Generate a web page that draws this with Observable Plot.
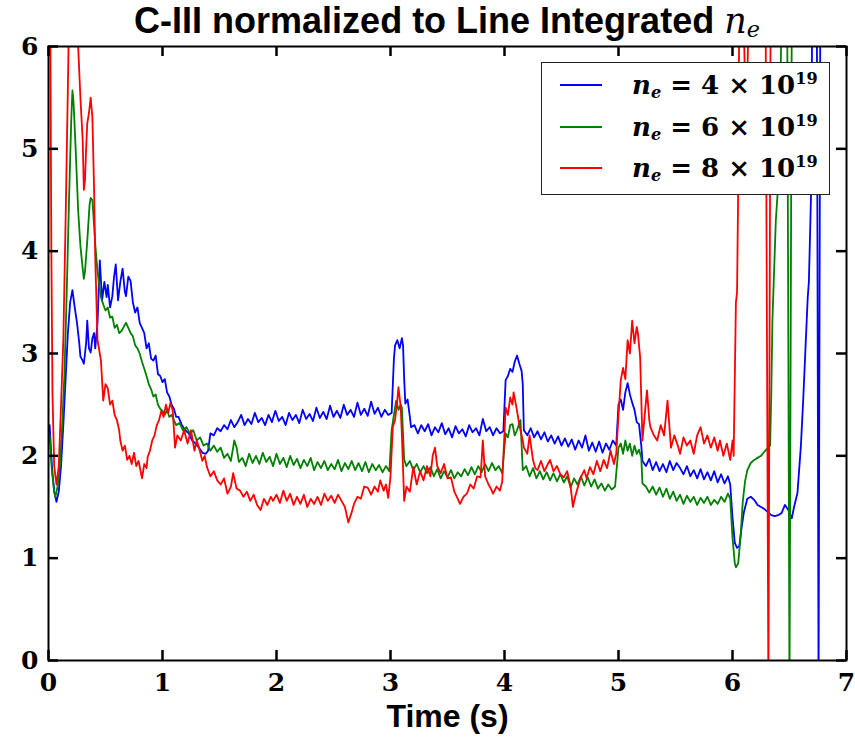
<!DOCTYPE html>
<html><head><meta charset="utf-8">
<script src="https://cdn.jsdelivr.net/npm/d3@7"></script>
<script src="https://cdn.jsdelivr.net/npm/@observablehq/plot@0.6"></script>
<style>
body{margin:0;background:#fff;}
#wrap{position:relative;width:855px;height:738px;overflow:hidden;background:#fff;}
#title{position:absolute;left:48px;width:798px;top:0;height:44px;text-align:center;font-family:"Liberation Sans",Arial,sans-serif;font-weight:bold;font-size:36px;line-height:42px;white-space:nowrap;color:#000;z-index:2;}
#title i{font-family:"DejaVu Serif";font-weight:normal;font-size:35px;}
#title sub{font-size:0.62em;vertical-align:-0.2em;line-height:0;font-family:"DejaVu Serif";font-style:italic;font-weight:normal;}
#chart{position:absolute;left:0;top:36px;z-index:1;}
#legend{position:absolute;left:541px;top:62px;width:287px;height:131px;border:1.5px solid #222;background:#fff;z-index:3;}
.sw{position:absolute;left:18px;width:42px;height:0;border-top:2px solid;}
.lt{position:absolute;left:90px;height:30px;line-height:30px;font-family:"DejaVu Serif",serif;font-weight:bold;font-size:26px;white-space:nowrap;color:#000;}
.lt sub{font-size:0.62em;vertical-align:-0.25em;line-height:0;font-style:italic;}
.lt sup{font-size:0.62em;vertical-align:0.6em;line-height:0;}
</style></head>
<body>
<div id="wrap">
  <div id="title">C-III normalized to Line Integrated <i>n</i><sub>e</sub></div>
  <div id="chart"></div>
  <div id="legend"></div>
</div>
<script>
const xTicks = [0,1,2,3,4,5,6,7];
const yTicks = [0,1,2,3,4,5,6];
const seriesNames = ["4", "6", "8"];
const seriesColors = ["#0000ff", "#008000", "#ff0000"];

const blue = [[0.01,2.3],[0.03,1.9],[0.05,1.65],[0.07,1.55],[0.09,1.65],[0.11,1.9],[0.13,2.3],[0.15,2.75],[0.17,3.2],[0.19,3.5],[0.21,3.62],[0.23,3.45],[0.25,3.3],[0.27,3.1],[0.28,2.97],[0.30,2.93],[0.31,2.9],[0.33,3.1],[0.34,3.32],[0.355,3.05],[0.37,3.01],[0.385,3.15],[0.40,3.2],[0.41,3.05],[0.43,3.3],[0.45,3.91],[0.47,3.52],[0.49,3.7],[0.51,3.55],[0.52,3.67],[0.54,3.45],[0.56,3.56],[0.575,3.75],[0.59,3.87],[0.61,3.52],[0.63,3.7],[0.65,3.83],[0.67,3.6],[0.68,3.56],[0.70,3.75],[0.72,3.71],[0.74,3.5],[0.76,3.4],[0.78,3.45],[0.80,3.3],[0.82,3.25],[0.84,3.2],[0.86,3.05],[0.88,3.1],[0.90,2.95],[0.92,2.93],[0.94,2.98],[0.96,2.8],[0.98,2.78],[1.00,2.72],[1.02,2.75],[1.04,2.62],[1.06,2.58],[1.08,2.5],[1.10,2.46],[1.12,2.38],[1.14,2.38],[1.17,2.3],[1.20,2.25],[1.23,2.22],[1.26,2.15],[1.29,2.12],[1.32,2.08],[1.35,2.03],[1.38,2.02],[1.40,2.05],[1.42,2.22],[1.45,2.2],[1.48,2.27],[1.51,2.24],[1.54,2.3],[1.57,2.26],[1.60,2.35],[1.63,2.28],[1.66,2.33],[1.69,2.4],[1.72,2.3],[1.75,2.36],[1.78,2.31],[1.81,2.42],[1.84,2.33],[1.87,2.37],[1.90,2.3],[1.93,2.4],[1.96,2.33],[1.99,2.44],[2.02,2.34],[2.05,2.38],[2.08,2.3],[2.11,2.42],[2.14,2.35],[2.17,2.4],[2.20,2.32],[2.23,2.45],[2.26,2.36],[2.29,2.41],[2.32,2.34],[2.35,2.47],[2.38,2.37],[2.41,2.43],[2.44,2.36],[2.47,2.49],[2.50,2.38],[2.53,2.44],[2.56,2.37],[2.59,2.5],[2.62,2.4],[2.65,2.45],[2.68,2.38],[2.71,2.52],[2.74,2.4],[2.77,2.46],[2.80,2.39],[2.83,2.53],[2.86,2.41],[2.89,2.47],[2.92,2.38],[2.95,2.45],[2.98,2.4],[3.01,2.42],[3.03,2.95],[3.04,3.08],[3.06,3.13],[3.08,3.05],[3.10,3.15],[3.11,3.08],[3.12,2.75],[3.13,2.51],[3.15,2.55],[3.17,2.38],[3.18,2.28],[3.21,2.3],[3.24,2.22],[3.27,2.3],[3.30,2.24],[3.33,2.31],[3.36,2.2],[3.39,2.28],[3.42,2.23],[3.45,2.32],[3.48,2.21],[3.51,2.27],[3.54,2.18],[3.57,2.29],[3.60,2.22],[3.63,2.26],[3.66,2.19],[3.69,2.3],[3.72,2.23],[3.75,2.27],[3.78,2.2],[3.81,2.36],[3.84,2.24],[3.87,2.28],[3.90,2.2],[3.93,2.27],[3.96,2.22],[3.99,2.24],[4.01,2.74],[4.03,2.78],[4.05,2.85],[4.07,2.82],[4.09,2.92],[4.11,2.98],[4.13,2.9],[4.15,2.83],[4.16,2.7],[4.17,2.25],[4.20,2.2],[4.23,2.27],[4.26,2.18],[4.29,2.24],[4.32,2.16],[4.35,2.23],[4.38,2.14],[4.41,2.2],[4.44,2.12],[4.47,2.19],[4.50,2.1],[4.53,2.17],[4.56,2.09],[4.59,2.16],[4.62,2.06],[4.65,2.15],[4.68,2.08],[4.71,2.2],[4.74,2.05],[4.77,2.13],[4.80,2.04],[4.83,2.14],[4.86,2.03],[4.89,2.12],[4.92,2.06],[4.95,2.15],[4.98,2.1],[5.00,2.5],[5.02,2.55],[5.04,2.45],[5.06,2.62],[5.08,2.71],[5.10,2.6],[5.12,2.52],[5.14,2.45],[5.16,2.33],[5.18,2.31],[5.20,2.1],[5.21,1.95],[5.24,1.9],[5.27,1.97],[5.30,1.86],[5.33,1.94],[5.36,1.85],[5.39,1.92],[5.42,1.84],[5.45,1.95],[5.48,1.86],[5.51,1.93],[5.54,1.88],[5.57,1.82],[5.60,1.9],[5.63,1.8],[5.66,1.86],[5.69,1.78],[5.72,1.87],[5.75,1.77],[5.78,1.84],[5.81,1.76],[5.84,1.85],[5.87,1.74],[5.90,1.82],[5.93,1.73],[5.96,1.8],[5.98,1.72],[6.00,1.4],[6.02,1.15],[6.04,1.1],[6.06,1.12],[6.08,1.3],[6.10,1.45],[6.13,1.58],[6.16,1.6],[6.19,1.57],[6.22,1.52],[6.25,1.5],[6.28,1.48],[6.31,1.45],[6.34,1.42],[6.37,1.41],[6.40,1.42],[6.43,1.44],[6.46,1.52],[6.49,1.47],[6.52,1.39],[6.54,1.5],[6.57,1.64],[6.60,2.1],[6.62,2.54],[6.65,3.3],[6.66,3.55],[6.67,3.7],[6.69,4.6],[6.70,6.5],[6.72,7.5],[6.74,6.3],[6.755,-0.3],[6.77,6.3],[6.80,8]];

const green = [[0.01,2.2],[0.03,1.85],[0.05,1.65],[0.06,1.6],[0.08,1.7],[0.10,1.9],[0.12,2.3],[0.14,2.8],[0.16,3.6],[0.18,4.5],[0.20,5.3],[0.21,5.57],[0.22,5.45],[0.24,4.95],[0.26,4.4],[0.28,4.05],[0.30,3.83],[0.31,3.73],[0.32,3.8],[0.34,4.1],[0.36,4.45],[0.37,4.52],[0.385,4.5],[0.40,4.25],[0.41,4.07],[0.43,3.8],[0.44,3.71],[0.46,3.55],[0.48,3.48],[0.50,3.42],[0.52,3.45],[0.54,3.35],[0.56,3.36],[0.58,3.25],[0.60,3.28],[0.62,3.2],[0.64,3.22],[0.66,3.26],[0.68,3.3],[0.70,3.25],[0.72,3.2],[0.74,3.17],[0.76,3.08],[0.78,3.05],[0.80,3.0],[0.82,2.92],[0.84,2.85],[0.86,2.78],[0.88,2.7],[0.90,2.65],[0.92,2.58],[0.94,2.6],[0.96,2.5],[0.98,2.46],[1.00,2.44],[1.02,2.4],[1.04,2.45],[1.06,2.38],[1.08,2.4],[1.10,2.35],[1.12,2.3],[1.15,2.32],[1.18,2.25],[1.21,2.28],[1.24,2.22],[1.27,2.25],[1.30,2.15],[1.33,2.18],[1.36,2.1],[1.39,2.12],[1.42,2.05],[1.45,2.1],[1.48,2.04],[1.51,2.08],[1.54,1.98],[1.57,2.02],[1.60,1.95],[1.63,2.15],[1.65,2.08],[1.67,1.94],[1.70,1.98],[1.73,1.9],[1.76,2.02],[1.79,1.93],[1.82,2.0],[1.85,1.92],[1.88,2.03],[1.91,1.94],[1.94,1.99],[1.97,1.9],[2.00,2.02],[2.03,1.92],[2.06,1.98],[2.09,1.89],[2.12,2.0],[2.15,1.91],[2.18,1.97],[2.21,1.88],[2.24,1.96],[2.27,1.9],[2.30,1.98],[2.33,1.86],[2.36,1.94],[2.39,1.88],[2.42,1.95],[2.45,1.86],[2.48,1.92],[2.51,1.87],[2.54,1.96],[2.57,1.85],[2.60,1.93],[2.63,1.87],[2.66,1.95],[2.69,1.86],[2.72,1.93],[2.75,1.85],[2.78,1.94],[2.81,1.84],[2.84,1.92],[2.87,1.86],[2.90,1.91],[2.93,1.84],[2.96,1.9],[2.99,1.85],[3.01,2.25],[3.03,2.4],[3.05,2.54],[3.07,2.45],[3.09,2.5],[3.10,2.47],[3.12,1.96],[3.14,1.9],[3.17,1.95],[3.20,1.86],[3.23,1.92],[3.26,1.84],[3.29,1.9],[3.32,1.83],[3.35,1.89],[3.38,1.8],[3.41,1.87],[3.44,1.78],[3.47,1.85],[3.50,1.79],[3.53,1.86],[3.56,1.78],[3.59,1.84],[3.62,1.8],[3.65,1.87],[3.68,1.81],[3.71,1.89],[3.74,1.82],[3.77,1.9],[3.80,1.84],[3.83,1.92],[3.86,1.85],[3.89,1.93],[3.92,1.86],[3.95,1.9],[3.98,1.83],[4.01,2.22],[4.03,2.18],[4.05,2.3],[4.07,2.31],[4.09,2.2],[4.11,2.25],[4.13,2.32],[4.14,2.35],[4.16,1.86],[4.19,1.9],[4.22,1.8],[4.25,1.88],[4.28,1.78],[4.31,1.85],[4.34,1.77],[4.37,1.84],[4.40,1.76],[4.43,1.83],[4.46,1.75],[4.49,1.82],[4.52,1.74],[4.55,1.8],[4.58,1.69],[4.61,1.78],[4.64,1.72],[4.67,1.8],[4.70,1.71],[4.73,1.79],[4.76,1.7],[4.79,1.77],[4.82,1.68],[4.85,1.73],[4.88,1.66],[4.91,1.72],[4.94,1.67],[4.97,1.7],[5.00,2.08],[5.02,2.12],[5.04,2.02],[5.06,2.15],[5.08,2.05],[5.10,2.12],[5.12,2.0],[5.14,2.1],[5.16,2.02],[5.18,2.06],[5.20,1.98],[5.21,1.73],[5.24,1.7],[5.27,1.64],[5.30,1.7],[5.33,1.62],[5.36,1.69],[5.39,1.6],[5.42,1.68],[5.45,1.58],[5.48,1.65],[5.51,1.56],[5.54,1.62],[5.57,1.53],[5.60,1.61],[5.63,1.55],[5.66,1.6],[5.69,1.52],[5.72,1.59],[5.75,1.54],[5.78,1.6],[5.81,1.52],[5.84,1.57],[5.87,1.53],[5.90,1.6],[5.93,1.55],[5.96,1.63],[5.98,1.58],[6.00,1.2],[6.02,0.95],[6.03,0.91],[6.05,0.95],[6.07,1.2],[6.09,1.55],[6.11,1.75],[6.13,1.86],[6.16,1.93],[6.19,1.96],[6.22,1.98],[6.25,2.0],[6.28,2.04],[6.31,2.08],[6.33,2.1],[6.34,2.6],[6.35,3.32],[6.38,4.3],[6.41,4.81],[6.43,6.3],[6.45,7.5],[6.48,6.3],[6.50,-0.3],[6.52,6.3],[6.55,8]];

const red = [[0.005,7],[0.015,6.5],[0.025,4.0],[0.035,2.6],[0.05,1.9],[0.07,1.72],[0.09,1.9],[0.11,2.5],[0.13,3.13],[0.15,4.3],[0.17,5.6],[0.18,6.3],[0.20,7],[0.24,7],[0.26,6.0],[0.28,5.5],[0.30,5.08],[0.31,4.6],[0.32,4.69],[0.33,5.0],[0.34,5.25],[0.355,5.35],[0.37,5.5],[0.385,5.31],[0.40,4.6],[0.41,3.94],[0.43,3.13],[0.45,3.0],[0.46,2.93],[0.48,2.54],[0.50,2.7],[0.52,2.66],[0.54,2.5],[0.56,2.54],[0.58,2.4],[0.60,2.35],[0.62,2.25],[0.63,2.15],[0.65,2.05],[0.67,2.1],[0.69,1.96],[0.71,2.0],[0.73,1.92],[0.75,2.03],[0.77,1.9],[0.79,1.95],[0.81,1.84],[0.82,1.78],[0.84,1.92],[0.86,1.88],[0.87,1.99],[0.89,2.05],[0.91,2.15],[0.93,2.2],[0.95,2.3],[0.97,2.35],[0.99,2.44],[1.01,2.38],[1.03,2.5],[1.05,2.42],[1.07,2.52],[1.09,2.44],[1.11,2.08],[1.13,2.2],[1.16,2.15],[1.19,2.25],[1.22,2.12],[1.25,2.25],[1.28,2.05],[1.30,2.15],[1.32,2.08],[1.35,1.95],[1.37,2.0],[1.39,1.89],[1.42,1.8],[1.45,1.85],[1.48,1.76],[1.51,1.72],[1.54,1.78],[1.57,1.63],[1.60,1.7],[1.62,1.83],[1.65,1.68],[1.68,1.66],[1.71,1.6],[1.74,1.65],[1.77,1.56],[1.80,1.62],[1.83,1.52],[1.86,1.47],[1.89,1.58],[1.92,1.52],[1.95,1.6],[1.97,1.56],[2.00,1.62],[2.03,1.54],[2.06,1.66],[2.09,1.56],[2.12,1.63],[2.15,1.52],[2.18,1.6],[2.21,1.53],[2.24,1.62],[2.27,1.5],[2.30,1.58],[2.33,1.53],[2.36,1.6],[2.39,1.52],[2.42,1.63],[2.45,1.56],[2.48,1.61],[2.51,1.54],[2.54,1.62],[2.57,1.56],[2.60,1.5],[2.63,1.35],[2.66,1.45],[2.68,1.53],[2.71,1.6],[2.74,1.58],[2.77,1.7],[2.80,1.69],[2.83,1.62],[2.86,1.7],[2.89,1.65],[2.91,1.76],[2.94,1.66],[2.96,1.72],[2.98,1.59],[3.00,1.8],[3.02,2.28],[3.04,2.35],[3.06,2.55],[3.07,2.67],[3.09,2.47],[3.10,2.2],[3.12,1.56],[3.14,1.7],[3.17,1.65],[3.20,1.89],[3.23,1.72],[3.26,1.85],[3.29,1.76],[3.32,1.9],[3.35,1.8],[3.37,2.0],[3.39,2.08],[3.41,1.9],[3.44,1.83],[3.47,1.92],[3.50,1.78],[3.53,1.79],[3.56,1.65],[3.59,1.58],[3.61,1.53],[3.64,1.6],[3.67,1.63],[3.70,1.72],[3.73,1.68],[3.76,1.8],[3.79,1.79],[3.81,2.15],[3.83,1.8],[3.86,1.72],[3.88,1.68],[3.90,1.63],[3.93,1.7],[3.96,1.66],[3.98,1.75],[4.01,2.47],[4.03,2.4],[4.05,2.57],[4.07,2.5],[4.08,2.62],[4.10,2.5],[4.11,2.44],[4.13,2.3],[4.14,2.25],[4.16,2.15],[4.17,2.08],[4.20,2.02],[4.22,2.2],[4.25,1.96],[4.27,1.88],[4.29,1.86],[4.32,1.95],[4.35,1.85],[4.38,1.92],[4.40,1.96],[4.43,1.85],[4.46,1.9],[4.49,1.82],[4.52,1.79],[4.55,1.85],[4.58,1.7],[4.60,1.5],[4.62,1.6],[4.65,1.72],[4.67,1.79],[4.70,1.86],[4.72,1.78],[4.75,1.89],[4.78,1.82],[4.81,1.95],[4.84,1.85],[4.87,1.96],[4.90,1.88],[4.93,2.05],[4.96,1.92],[4.98,2.02],[5.00,2.4],[5.02,2.74],[5.04,2.86],[5.06,2.75],[5.08,3.13],[5.10,3.0],[5.12,3.32],[5.14,3.1],[5.16,3.26],[5.17,3.2],[5.19,2.96],[5.21,2.15],[5.23,2.4],[5.25,2.64],[5.27,2.35],[5.28,2.28],[5.31,2.2],[5.34,2.15],[5.37,2.3],[5.40,2.2],[5.43,2.54],[5.46,2.08],[5.49,2.2],[5.52,2.1],[5.54,2.02],[5.57,2.18],[5.60,2.1],[5.63,2.15],[5.66,2.02],[5.69,2.2],[5.72,2.28],[5.75,2.12],[5.78,2.2],[5.81,2.08],[5.84,2.18],[5.87,2.05],[5.89,2.15],[5.92,2.0],[5.95,2.12],[5.98,1.96],[6.00,2.15],[6.01,2.0],[6.03,3.5],[6.04,3.6],[6.05,4.6],[6.06,6.5],[6.08,7],[6.10,6.2],[6.12,5.0],[6.14,6.3],[6.16,8],[6.27,8],[6.29,6.5],[6.315,-0.3],[6.335,6.5],[6.36,8]];

const series = [blue, green, red];

const W = 855, H = 702, mT = 10, mB = 78, mL = 48, mR = 9;
const plotW = W - mL - mR, plotH = H - mT - mB;
const tickPx = 10;
const xMax = 7, yMax = 6;
const tickLenX = tickPx * xMax / plotW;
const tickLenY = tickPx * yMax / plotH;
const xTickSegs = xTicks.flatMap(t => [{x: t, a: 0, b: tickLenY}, {x: t, a: yMax - tickLenY, b: yMax}]);
const yTickSegs = yTicks.flatMap(t => [{y: t, a: 0, b: tickLenX}, {y: t, a: xMax - tickLenX, b: xMax}]);

const plot = Plot.plot({
  width: W,
  height: H,
  marginTop: mT,
  marginBottom: mB,
  marginLeft: mL,
  marginRight: mR,
  x: {domain: [0, xMax]},
  y: {domain: [0, yMax]},
  style: {background: "transparent", color: "black", overflow: "visible"},
  marks: [
    ...series.map((s, i) => Plot.line(s, {x: d => d[0], y: d => d[1], stroke: seriesColors[i], strokeWidth: 1.8, clip: true})),
    Plot.ruleX(xTickSegs, {x: "x", y1: "a", y2: "b", stroke: "#000", strokeWidth: 2.5}),
    Plot.ruleY(yTickSegs, {y: "y", x1: "a", x2: "b", stroke: "#000", strokeWidth: 2.5}),
    Plot.frame({stroke: "black", strokeWidth: 2}),
    Plot.axisX({ticks: xTicks, anchor: "bottom", tickSize: 0, tickPadding: 13, tickFormat: d => String(d), label: null, fontFamily: "DejaVu Serif", fontWeight: "bold", fontSize: 25, fill: "black"}),
    Plot.axisY({ticks: yTicks, anchor: "left", tickSize: 0, tickPadding: 10, tickFormat: d => String(d), label: null, fontFamily: "DejaVu Serif", fontWeight: "bold", fontSize: 25, fill: "black"}),
    Plot.text(["Time (s)"], {frameAnchor: "bottom", dy: 66, fontFamily: "Liberation Sans", fontWeight: "bold", fontSize: 32, fill: "black"})
  ]
});
document.getElementById("chart").appendChild(plot);

const legend = document.getElementById("legend");
const rowY = [22, 64, 105];
seriesNames.forEach((n, i) => {
  const sw = document.createElement("div");
  sw.className = "sw";
  sw.style.top = (rowY[i] - 1) + "px";
  sw.style.borderTopColor = seriesColors[i];
  legend.appendChild(sw);
  const t = document.createElement("div");
  t.className = "lt";
  t.style.top = (rowY[i] - 15) + "px";
  t.innerHTML = `<i>n</i><sub>e</sub> = ${n} × 10<sup>19</sup>`;
  legend.appendChild(t);
});
</script>
</body></html>
